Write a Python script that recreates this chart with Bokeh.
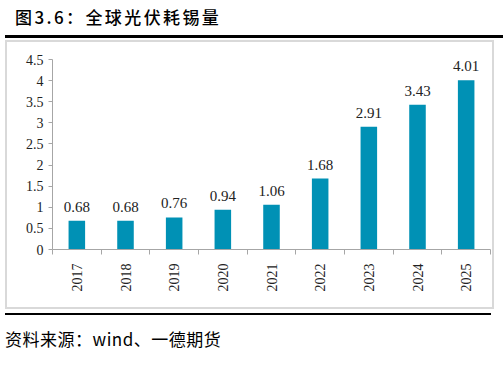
import math
from bokeh.plotting import figure
from bokeh.layouts import column
from bokeh.models import Range1d, FixedTicker, CustomJSTickFormatter, ColumnDataSource, Div
from bokeh.core.properties import value
from bokeh.embed import file_html
from bokeh.resources import INLINE

years = ["2017", "2018", "2019", "2020", "2021", "2022", "2023", "2024", "2025"]
tin_use = [0.68, 0.68, 0.76, 0.94, 1.06, 1.68, 2.91, 3.43, 4.01]
y_ticks = [0, 0.5, 1, 1.5, 2, 2.5, 3, 3.5, 4, 4.5]
title_text = "图3.6：全球光伏耗锡量"
source_text = "资料来源：wind、一德期货"

# figure canvas (inside a 2px gray border), page origin (7, 42)
CW, CH = 489, 269
FL, FT, FB, FR = 45, 17, 207, 483  # frame edges in canvas pixels

xs = [i + 0.5 for i in range(len(years))]
src = ColumnDataSource(dict(x=xs, y=tin_use, lab=[f"{v:.2f}" for v in tin_use]))

p = figure(width=CW, height=CH, output_backend="svg", toolbar_location=None,
           x_range=Range1d(0, len(years)), y_range=Range1d(0, 4.5),
           min_border_left=FL, min_border_right=CW - FR,
           min_border_top=FT, min_border_bottom=CH - FB,
           margin=(0, 0, 0, 5),
           styles={"border": "2px solid #d9d9d9"})
p.outline_line_color = None
p.background_fill_color = "white"
p.border_fill_color = "white"
p.xgrid.visible = False
p.ygrid.visible = False

p.vbar(x="x", top="y", width=0.34, source=src, fill_color="#0091B5", line_color=None)
p.text(x="x", y="y", text="lab", source=src, text_align="center", text_baseline="bottom",
       y_offset=-9, text_font=value("Liberation Serif"), text_font_size="15px", text_color="#222222")

xa = p.xaxis[0]
xa.ticker = FixedTicker(ticks=xs, minor_ticks=list(range(len(years) + 1)))
xa.major_label_overrides = {x: y for x, y in zip(xs, years)}
xa.major_label_orientation = math.pi / 2
xa.major_tick_line_color = None
xa.minor_tick_in = 0
xa.minor_tick_out = 5
xa.minor_tick_line_color = "#a6a6a6"
xa.axis_line_color = "#a6a6a6"
xa.major_label_standoff = 8
xa.major_label_text_font = "Liberation Serif"
xa.major_label_text_font_size = "14px"
xa.major_label_text_color = "#222222"

ya = p.yaxis[0]
ya.ticker = FixedTicker(ticks=y_ticks, minor_ticks=[])
ya.formatter = CustomJSTickFormatter(code="return tick.toString();")
ya.major_tick_in = 0
ya.major_tick_out = 4
ya.major_tick_line_color = "#a6a6a6"
ya.axis_line_color = "#a6a6a6"
ya.major_label_standoff = 5
ya.major_label_text_font = "Liberation Serif"
ya.major_label_text_font_size = "14px"
ya.major_label_text_color = "#222222"

title_div = Div(width=503, height=40, margin=0, text=(
    '<div style="position:absolute;left:15px;top:5px;font-family:\'Noto Sans CJK SC\';'
    'font-size:17px;font-weight:500;letter-spacing:2.4px;color:#000;white-space:nowrap;line-height:24px;">'
    + title_text + '</div>'
    '<div style="position:absolute;left:5px;top:35px;width:498px;height:3px;background:#000;"></div>'))

foot_div = Div(width=503, height=53, margin=0, text=(
    '<div style="position:absolute;left:5px;top:4px;width:486px;height:2px;background:#000;"></div>'
    '<div style="position:absolute;left:5px;top:18px;font-family:\'Noto Sans CJK SC\';'
    'font-size:17px;letter-spacing:0.5px;color:#000;white-space:nowrap;line-height:24px;">'
    + source_text + '</div>'))

layout = column(title_div, p, foot_div, spacing=0)

open("out.html", "w").write(file_html(layout, INLINE))
